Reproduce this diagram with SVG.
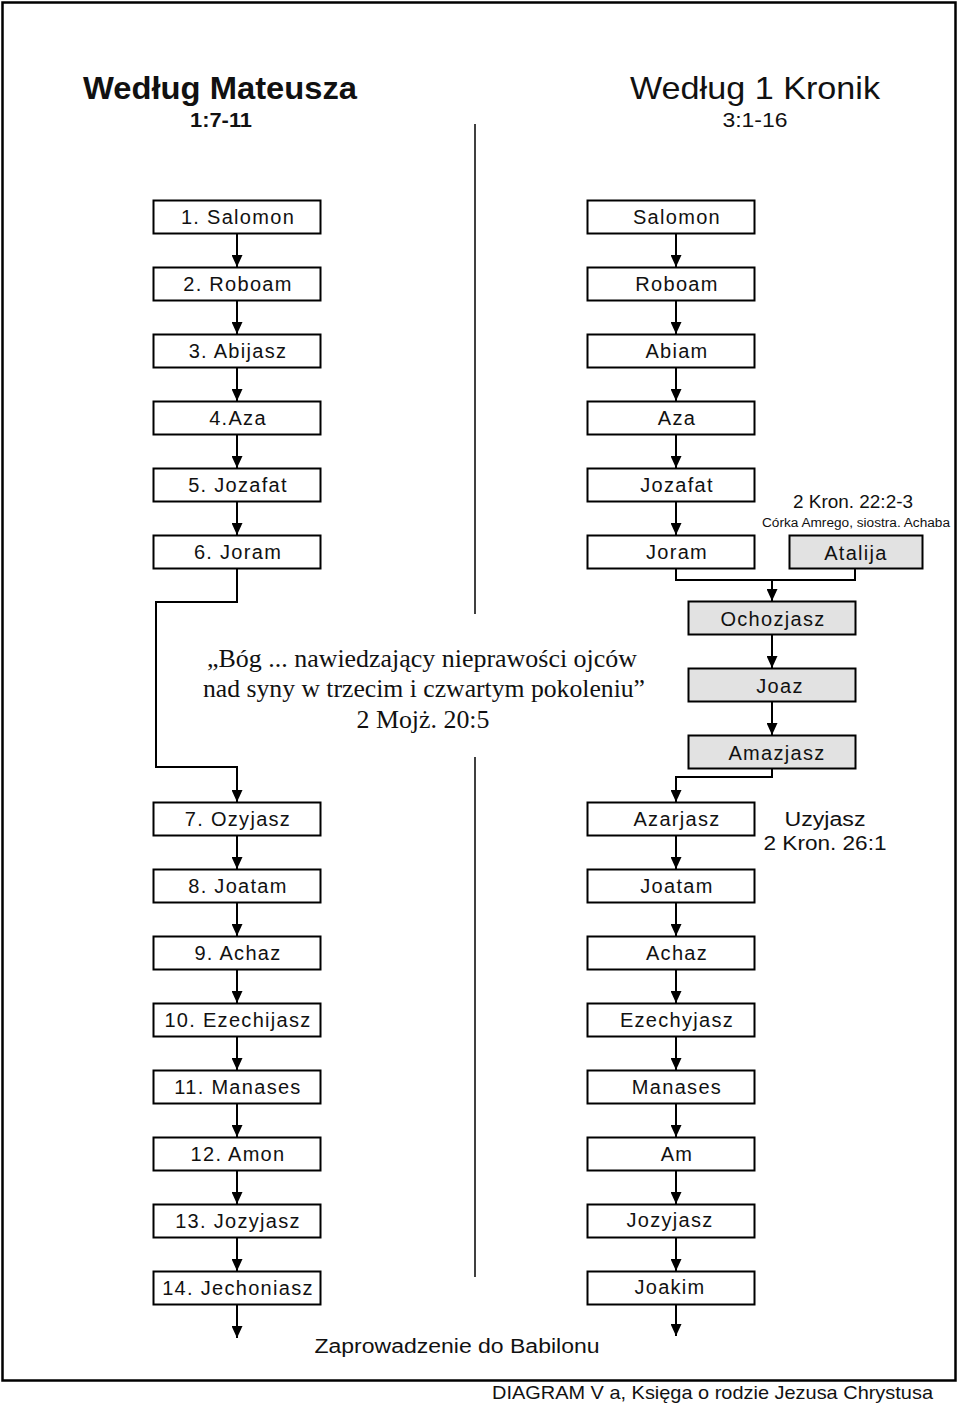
<svg xmlns="http://www.w3.org/2000/svg" width="960" height="1405" viewBox="0 0 960 1405">
<defs>
<marker id="ah" markerWidth="12" markerHeight="11" refX="12" refY="5.5" orient="auto" markerUnits="userSpaceOnUse" viewBox="0 0 12 11">
<path d="M0,0 L12,5.5 L0,11 Z" fill="#000"/>
</marker>
<style>
.box{fill:#fff;stroke:#000;stroke-width:2}
.grey{fill:#e2e2e2;stroke:#000;stroke-width:2}
.bt{font-family:"Liberation Sans",Arial,sans-serif;font-size:20px;text-anchor:middle;fill:#111;letter-spacing:1.3px}
.c{fill:none;stroke:#000;stroke-width:2}
.ca{fill:none;stroke:#000;stroke-width:2;marker-end:url(#ah)}
.sans{font-family:"Liberation Sans",Arial,sans-serif;fill:#111}
.serif{font-family:"Liberation Serif","Times New Roman",serif;fill:#111;font-size:25px;text-anchor:middle}
</style>
</defs>
<rect x="0" y="0" width="960" height="1405" fill="#fff"/>
<rect x="2.5" y="2.5" width="953" height="1378" fill="none" stroke="#000" stroke-width="2.5"/>
<line x1="475" y1="124" x2="475" y2="614" stroke="#000" stroke-width="1.5"/>
<line x1="475" y1="757" x2="475" y2="1277" stroke="#000" stroke-width="1.5"/>
<g id="titles">
<text class="sans" x="220" y="99" font-size="32" font-weight="bold" text-anchor="middle" textLength="274" lengthAdjust="spacingAndGlyphs">Według Mateusza</text>
<text class="sans" x="221" y="127" font-size="21" font-weight="bold" text-anchor="middle" textLength="62" lengthAdjust="spacingAndGlyphs">1:7-11</text>
<text class="sans" x="755" y="99" font-size="32" text-anchor="middle" textLength="250" lengthAdjust="spacingAndGlyphs">Według 1 Kronik</text>
<text class="sans" x="755" y="127" font-size="21" text-anchor="middle" textLength="65" lengthAdjust="spacingAndGlyphs">3:1-16</text>
</g>
<g id="connectors">
<line class="ca" x1="237" y1="234" x2="237" y2="267"/>
<line class="ca" x1="237" y1="301" x2="237" y2="334"/>
<line class="ca" x1="237" y1="368" x2="237" y2="401"/>
<line class="ca" x1="237" y1="435" x2="237" y2="468"/>
<line class="ca" x1="237" y1="502" x2="237" y2="535"/>
<polyline class="ca" points="237,569 237,602 156,602 156,767 237,767 237,802"/>
<line class="ca" x1="237" y1="836" x2="237" y2="869"/>
<line class="ca" x1="237" y1="903" x2="237" y2="936"/>
<line class="ca" x1="237" y1="970" x2="237" y2="1003"/>
<line class="ca" x1="237" y1="1037" x2="237" y2="1070"/>
<line class="ca" x1="237" y1="1104" x2="237" y2="1137"/>
<line class="ca" x1="237" y1="1171" x2="237" y2="1204"/>
<line class="ca" x1="237" y1="1238" x2="237" y2="1271"/>
<line class="ca" x1="237" y1="1305" x2="237" y2="1338"/>
<line class="ca" x1="676" y1="234" x2="676" y2="267"/>
<line class="ca" x1="676" y1="301" x2="676" y2="334"/>
<line class="ca" x1="676" y1="368" x2="676" y2="401"/>
<line class="ca" x1="676" y1="435" x2="676" y2="468"/>
<line class="ca" x1="676" y1="502" x2="676" y2="535"/>
<polyline class="c" points="676,569 676,580 855,580 855,569"/>
<line class="ca" x1="772" y1="580" x2="772" y2="601"/>
<line class="ca" x1="772" y1="635" x2="772" y2="668"/>
<line class="ca" x1="772" y1="702" x2="772" y2="735"/>
<polyline class="ca" points="772,769 772,777 676,777 676,802"/>
<line class="ca" x1="676" y1="836" x2="676" y2="869"/>
<line class="ca" x1="676" y1="903" x2="676" y2="936"/>
<line class="ca" x1="676" y1="970" x2="676" y2="1003"/>
<line class="ca" x1="676" y1="1037" x2="676" y2="1070"/>
<line class="ca" x1="676" y1="1104" x2="676" y2="1137"/>
<line class="ca" x1="676" y1="1171" x2="676" y2="1204"/>
<line class="ca" x1="676" y1="1238" x2="676" y2="1271"/>
<line class="ca" x1="676" y1="1305" x2="676" y2="1336"/>
</g>
<g id="m1"><rect class="box" x="153.5" y="200.5" width="167" height="33"/><text class="bt" x="238" y="224">1. Salomon</text></g>
<g id="m2"><rect class="box" x="153.5" y="267.5" width="167" height="33"/><text class="bt" x="238" y="291">2. Roboam</text></g>
<g id="m3"><rect class="box" x="153.5" y="334.5" width="167" height="33"/><text class="bt" x="238" y="358">3. Abijasz</text></g>
<g id="m4"><rect class="box" x="153.5" y="401.5" width="167" height="33"/><text class="bt" x="238" y="425">4.Aza</text></g>
<g id="m5"><rect class="box" x="153.5" y="468.5" width="167" height="33"/><text class="bt" x="238" y="492">5. Jozafat</text></g>
<g id="m6"><rect class="box" x="153.5" y="535.5" width="167" height="33"/><text class="bt" x="238" y="559">6. Joram</text></g>
<g id="m7"><rect class="box" x="153.5" y="802.5" width="167" height="33"/><text class="bt" x="238" y="826">7. Ozyjasz</text></g>
<g id="m8"><rect class="box" x="153.5" y="869.5" width="167" height="33"/><text class="bt" x="238" y="893">8. Joatam</text></g>
<g id="m9"><rect class="box" x="153.5" y="936.5" width="167" height="33"/><text class="bt" x="238" y="960">9. Achaz</text></g>
<g id="m10"><rect class="box" x="153.5" y="1003.5" width="167" height="33"/><text class="bt" x="238" y="1027">10. Ezechijasz</text></g>
<g id="m11"><rect class="box" x="153.5" y="1070.5" width="167" height="33"/><text class="bt" x="238" y="1094">11. Manases</text></g>
<g id="m12"><rect class="box" x="153.5" y="1137.5" width="167" height="33"/><text class="bt" x="238" y="1161">12. Amon</text></g>
<g id="m13"><rect class="box" x="153.5" y="1204.5" width="167" height="33"/><text class="bt" x="238" y="1228">13. Jozyjasz</text></g>
<g id="m14"><rect class="box" x="153.5" y="1271.5" width="167" height="33"/><text class="bt" x="238" y="1295">14. Jechoniasz</text></g>
<g id="k1"><rect class="box" x="587.5" y="200.5" width="167" height="33"/><text class="bt" x="677" y="224">Salomon</text></g>
<g id="k2"><rect class="box" x="587.5" y="267.5" width="167" height="33"/><text class="bt" x="677" y="291">Roboam</text></g>
<g id="k3"><rect class="box" x="587.5" y="334.5" width="167" height="33"/><text class="bt" x="677" y="358">Abiam</text></g>
<g id="k4"><rect class="box" x="587.5" y="401.5" width="167" height="33"/><text class="bt" x="677" y="425">Aza</text></g>
<g id="k5"><rect class="box" x="587.5" y="468.5" width="167" height="33"/><text class="bt" x="677" y="492">Jozafat</text></g>
<g id="k6"><rect class="box" x="587.5" y="535.5" width="167" height="33"/><text class="bt" x="677" y="559">Joram</text></g>
<g id="atalija"><rect class="grey" x="789.5" y="535.5" width="133" height="33"/><text class="bt" x="856" y="560">Atalija</text>
<text class="sans" x="853" y="508" font-size="18" text-anchor="middle" textLength="120" lengthAdjust="spacingAndGlyphs">2 Kron. 22:2-3</text>
<text class="sans" x="856" y="527" font-size="12" text-anchor="middle" textLength="188" lengthAdjust="spacingAndGlyphs">Córka Amrego, siostra. Achaba</text></g>
<g id="ochozjasz"><rect class="grey" x="688.5" y="601.5" width="167" height="33"/><text class="bt" x="773" y="626">Ochozjasz</text></g>
<g id="joaz"><rect class="grey" x="688.5" y="668.5" width="167" height="33"/><text class="bt" x="780" y="693">Joaz</text></g>
<g id="amazjasz"><rect class="grey" x="688.5" y="735.5" width="167" height="33"/><text class="bt" x="777" y="760">Amazjasz</text></g>
<g id="k7"><rect class="box" x="587.5" y="802.5" width="167" height="33"/><text class="bt" x="677" y="826">Azarjasz</text>
<text class="sans" x="825" y="826" font-size="20" text-anchor="middle" textLength="81" lengthAdjust="spacingAndGlyphs">Uzyjasz</text>
<text class="sans" x="825" y="850" font-size="20" text-anchor="middle" textLength="123" lengthAdjust="spacingAndGlyphs">2 Kron. 26:1</text></g>
<g id="k8"><rect class="box" x="587.5" y="869.5" width="167" height="33"/><text class="bt" x="677" y="893">Joatam</text></g>
<g id="k9"><rect class="box" x="587.5" y="936.5" width="167" height="33"/><text class="bt" x="677" y="960">Achaz</text></g>
<g id="k10"><rect class="box" x="587.5" y="1003.5" width="167" height="33"/><text class="bt" x="677" y="1027">Ezechyjasz</text></g>
<g id="k11"><rect class="box" x="587.5" y="1070.5" width="167" height="33"/><text class="bt" x="677" y="1094">Manases</text></g>
<g id="k12"><rect class="box" x="587.5" y="1137.5" width="167" height="33"/><text class="bt" x="677" y="1161">Am</text></g>
<g id="k13"><rect class="box" x="587.5" y="1204.5" width="167" height="33"/><text class="bt" x="670" y="1227">Jozyjasz</text></g>
<g id="k14"><rect class="box" x="587.5" y="1271.5" width="167" height="33"/><text class="bt" x="670" y="1294">Joakim</text></g>
<g id="quote">
<text class="serif" x="422" y="667" textLength="430" lengthAdjust="spacingAndGlyphs">„Bóg ... nawiedzający nieprawości ojców</text>
<text class="serif" x="424" y="697" textLength="442" lengthAdjust="spacingAndGlyphs">nad syny w trzecim i czwartym pokoleniu”</text>
<text class="serif" x="423" y="728" textLength="133" lengthAdjust="spacingAndGlyphs">2 Mojż. 20:5</text>
</g>
<text class="sans" x="457" y="1353" font-size="20" text-anchor="middle" textLength="285" lengthAdjust="spacingAndGlyphs">Zaprowadzenie do Babilonu</text>
<text class="sans" x="492" y="1399" font-size="19" textLength="441" lengthAdjust="spacingAndGlyphs">DIAGRAM V a,  Księga o rodzie Jezusa Chrystusa</text>
</svg>
